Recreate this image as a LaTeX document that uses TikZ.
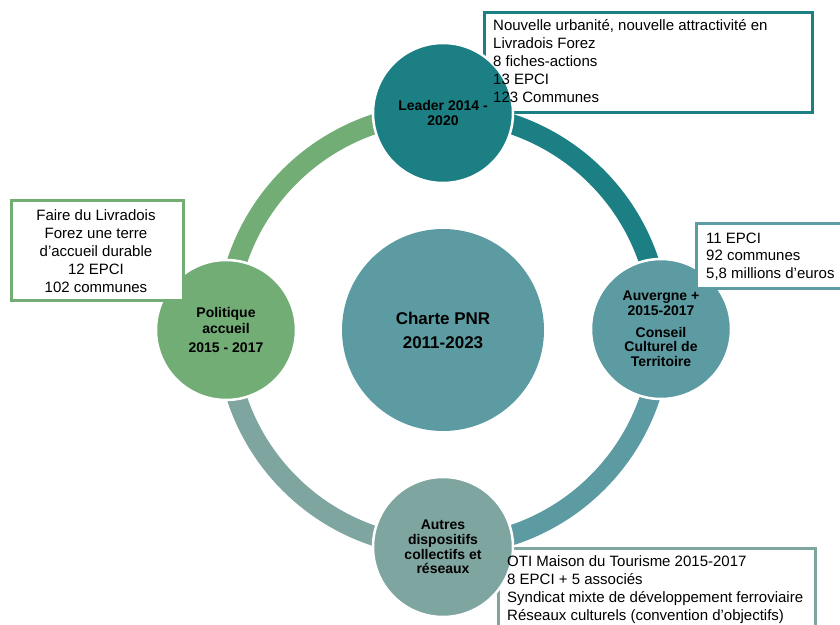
\documentclass[tikz,border=0pt]{standalone}
\usepackage{fontspec}
\setmainfont{Liberation Sans}
\definecolor{cTop}{RGB}{27,127,132}
\definecolor{cRight}{RGB}{91,155,161}
\definecolor{cBottom}{RGB}{127,165,160}
\definecolor{cLeft}{RGB}{114,173,118}
\pgfdeclarelayer{background}
\pgfsetlayers{background,main}
\begin{document}
\begin{tikzpicture}[x=1pt,y=1pt,
  ring/.style={line width=20pt},
  sat/.style={circle, minimum size=140pt, inner sep=0pt, draw=white, line width=2.5pt,
    align=center, font=\fontsize{14}{14.7}\selectfont\bfseries},
  frame/.style={draw, line width=3pt, fill=white, inner sep=0pt},
  boxtext/.style={inner sep=0pt, align=left, font=\fontsize{15}{18}\selectfont}]
\useasboundingbox (0,0) rectangle (840,624);
\clip (0,0) rectangle (840,624);
% central circle
\node[circle, minimum size=202pt, inner sep=0pt, fill=cRight, align=center,
  font=\fontsize{17}{24}\selectfont\bfseries] (M) at (443,294) {Charte PNR\\2011-2023};
% satellites
\node[sat, fill=cTop] (T) at (443,511) {Leader 2014 -\\2020};
\node[sat, fill=cRight] (R) at (661,295) {Auvergne +\\2015-2017\\[7pt]Conseil\\Culturel de\\Territoire};
\node[sat, fill=cBottom] (B) at (443,77) {Autres\\dispositifs\\collectifs et\\réseaux};
\node[sat, fill=cLeft, font=\fontsize{14}{16}\selectfont\bfseries] (L) at (226,294) {Politique\\accueil\\[3pt]2015 - 2017};
\begin{pgfonlayer}{background}
  \draw[ring, cTop] (T.center) arc[start angle=90, end angle=0, radius=217pt];
  \draw[ring, cRight] (R.center) arc[start angle=0, end angle=-90, radius=217pt];
  \draw[ring, cBottom] (B.center) arc[start angle=270, end angle=180, radius=217pt];
  \draw[ring, cLeft] (L.center) arc[start angle=180, end angle=90, radius=217pt];
  \node[frame, draw=cTop, minimum width=328pt, minimum height=100pt, anchor=north west] (topbox) at (483,613) {};
  \node[frame, draw=cBottom, minimum width=317pt, minimum height=90pt, anchor=north west] (botbox) at (497,77) {};
\end{pgfonlayer}
% right box (over the circle)
\node[frame, draw=cRight, minimum width=160pt, minimum height=65pt, anchor=north west] (rightbox) at (695,402) {};
% left box
\node[frame, draw=cLeft, minimum width=172pt, minimum height=100pt, anchor=north west] (leftbox) at (10,425) {};
% texts (base anchor = baseline of last line)
\node[boxtext, anchor=base west] (toptext) at (493,521.7)
  {Nouvelle urbanité, nouvelle attractivité en\\Livradois Forez\\8 fiches-actions\\13 EPCI\\123 Communes};
\node[boxtext, anchor=base west, font=\fontsize{15}{17.5}\selectfont] (righttext) at (706,345.7)
  {11 EPCI\\92 communes\\5,8 millions d’euros};
\node[boxtext, anchor=base west] (bottext) at (507,3.7)
  {OTI Maison du Tourisme 2015-2017\\8 EPCI + 5 associés\\Syndicat mixte de développement ferroviaire\\Réseaux culturels (convention d’objectifs)};
\node[boxtext, align=center, anchor=base] (lefttext) at (96,331.7)
  {Faire du Livradois\\Forez une terre\\d’accueil durable\\12 EPCI\\102 communes};
\end{tikzpicture}
\end{document}
